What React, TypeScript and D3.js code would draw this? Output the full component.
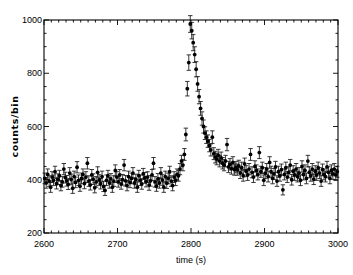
import React from "react";
import * as d3 from "d3";

const binStart = 2601;
const binWidth = 2;

const preFlareCounts = [
  405, 388, 420, 395, 372, 410, 398, 430, 385, 402,
  415, 378, 392, 440, 408, 396, 383, 425, 401, 368,
  412, 390, 447, 398, 376, 405, 420, 386, 410, 462,
  395, 381, 418, 402, 370, 392, 428, 399, 385, 412,
  375, 360, 398, 415, 388, 403, 372, 395, 435, 410,
  392, 418, 384, 400, 455, 396, 378, 412, 390, 405,
  425, 388, 401, 372, 415, 398, 384, 422, 407, 393,
  410, 380, 396, 418, 462, 392, 376, 403, 388, 425,
  399, 372, 412, 387, 405, 430, 395, 378, 410, 398,
  420,
];

const flareCounts = [
  415, 440, 470, 455, 495, 570, 742, 840, 985, 960,
  915, 870, 815, 760, 712, 668, 630, 600, 575, 560,
  545, 528, 512, 560, 498, 485, 478, 492, 470, 482,
  462, 455, 470, 532, 448, 458, 442, 465, 438, 447,
];

const postFlareCounts = [
  438, 452, 425, 445, 415, 460, 432, 418, 440, 495,
  428, 410, 450, 435, 420, 502, 430, 445, 398, 425,
  440, 412, 465, 430, 405, 422, 448, 395, 430, 415,
  438, 362, 420, 445, 410, 428, 455, 400, 432, 418,
  440, 412, 425, 398, 450, 420, 435, 405, 470, 428,
  415, 440, 402, 432, 418, 445, 425, 395, 438, 420,
  412, 448, 428, 405, 435, 422, 440, 418, 430,
];

const xTicks = [2600, 2700, 2800, 2900, 3000];
const yTicks = [200, 400, 600, 800, 1000];
const xLabel = "time (s)";
const yLabel = "counts/bin";

const counts = [...preFlareCounts, ...flareCounts, ...postFlareCounts];
const data = counts.map((c, i) => ({ t: binStart + i * binWidth, c, e: Math.sqrt(c) }));

const W = 353;
const H = 275;
const m = { left: 44, top: 20, right: 15, bottom: 42 };
const pw = W - m.left - m.right;
const ph = H - m.top - m.bottom;

export default function App() {
  const x = d3.scaleLinear().domain([2600, 3000]).range([m.left, m.left + pw]);
  const y = d3.scaleLinear().domain([200, 1000]).range([m.top + ph, m.top]);
  const xMinor = d3.range(2600, 3000.1, 10);
  const yMinor = d3.range(200, 1000.1, 50);
  const font = "'Liberation Sans Narrow', 'Arial Narrow', 'Liberation Sans', sans-serif";
  const ink = "#000";
  return (
    <svg width={W} height={H} style={{ position: "absolute", left: 0, top: 0, background: "#fff" }}>
      <rect x={0} y={0} width={W} height={H} fill="#fff" />
      <g stroke="#222" strokeWidth={0.9} fill="none">
        {data.map((d, i) => {
          const xp = x(d.t);
          const y1 = y(d.c + d.e);
          const y0 = y(d.c - d.e);
          return (
            <g key={i}>
              <line x1={xp} x2={xp} y1={y0} y2={y1} />
              <line x1={xp - 2.2} x2={xp + 2.2} y1={y0} y2={y0} />
              <line x1={xp - 2.2} x2={xp + 2.2} y1={y1} y2={y1} />
            </g>
          );
        })}
      </g>
      <g fill="#000">
        {data.map((d, i) => (
          <circle key={i} cx={x(d.t)} cy={y(d.c)} r={1.9} />
        ))}
      </g>
      <rect x={m.left} y={m.top} width={pw} height={ph} fill="none" stroke={ink} strokeWidth={1.1} />
      <g stroke={ink} strokeWidth={0.9}>
        {xMinor.map((v, i) => {
          const major = xTicks.includes(Math.round(v));
          const len = major ? 5 : 2.5;
          return (
            <g key={i}>
              <line x1={x(v)} x2={x(v)} y1={m.top + ph} y2={m.top + ph - len} />
              <line x1={x(v)} x2={x(v)} y1={m.top} y2={m.top + len} />
            </g>
          );
        })}
        {yMinor.map((v, i) => {
          const major = yTicks.includes(Math.round(v));
          const len = major ? 5 : 2.5;
          return (
            <g key={i}>
              <line x1={m.left} x2={m.left + len} y1={y(v)} y2={y(v)} />
              <line x1={m.left + pw} x2={m.left + pw - len} y1={y(v)} y2={y(v)} />
            </g>
          );
        })}
      </g>
      <g fontFamily={font} fontSize={9} fill={ink}>
        {xTicks.map((v) => (
          <text key={v} x={x(v)} y={m.top + ph + 14} textAnchor="middle">
            {v}
          </text>
        ))}
        {yTicks.map((v) => (
          <text key={v} x={m.left - 2} y={y(v) + 3} textAnchor="end">
            {v}
          </text>
        ))}
        <text x={x(2800)} y={m.top + ph + 30} textAnchor="middle">
          {xLabel}
        </text>
      </g>
      <text
        transform={`translate(18,${m.top + ph / 2}) rotate(-90)`}
        textAnchor="middle"
        fontFamily="'DejaVu Sans', sans-serif"
        fontSize={9.5}
        fontWeight="bold"
        letterSpacing={0.6}
        fill={ink}
      >
        {yLabel}
      </text>
    </svg>
  );
}
